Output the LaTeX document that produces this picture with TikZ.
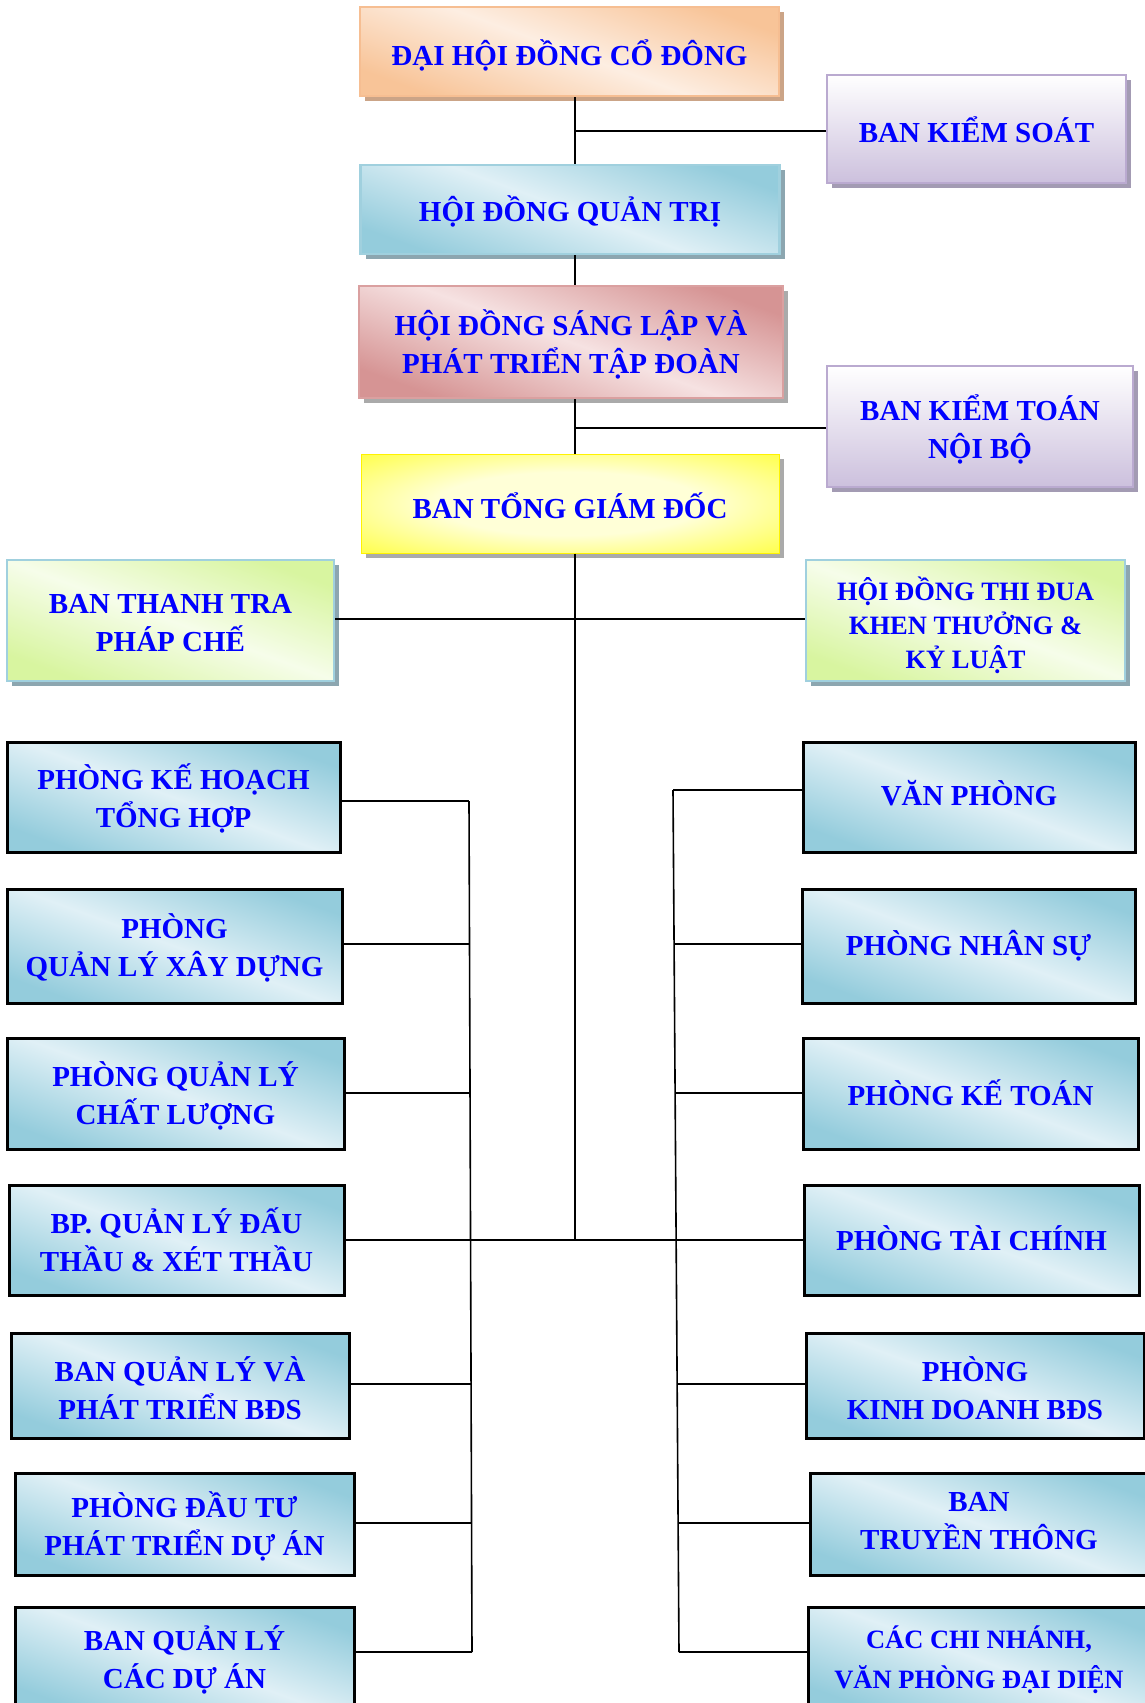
\documentclass[tikz,border=0pt]{standalone}
\usepackage{fontspec}
\setmainfont{Liberation Serif}
\usetikzlibrary{shadows}
\definecolor{txtblue}{RGB}{0,0,255}
\definecolor{bluedark}{RGB}{148,204,220}
\definecolor{bluelight}{RGB}{224,240,246}
\definecolor{peachdark}{RGB}{248,196,152}
\definecolor{peachlight}{RGB}{253,238,226}
\definecolor{peachborder}{RGB}{246,190,146}
\definecolor{peachshadow}{RGB}{203,164,135}
\definecolor{lavbottom}{RGB}{204,192,221}
\definecolor{lavborder}{RGB}{186,170,208}
\definecolor{lavshadow}{RGB}{163,155,179}
\definecolor{pinkdark}{RGB}{214,148,148}
\definecolor{pinklight}{RGB}{246,226,226}
\definecolor{pinkborder}{RGB}{218,160,160}
\definecolor{grayshadow}{RGB}{170,170,170}
\definecolor{greendark}{RGB}{216,245,160}
\definecolor{greenlight}{RGB}{246,253,234}
\definecolor{lbborder}{RGB}{160,208,222}
\definecolor{bshadow}{RGB}{140,166,176}
\definecolor{yellowin}{RGB}{255,255,215}
\pgfdeclareradialshading{yglow}{\pgfpoint{0bp}{0bp}}{color(0bp)=(yellowin); color(16bp)=(yellowin); color(46bp)=(yellow); color(50bp)=(yellow)}
\tikzset{
  basebox/.style={rectangle, align=center, inner sep=0pt, text=txtblue,
    font=\bfseries\fontsize{29}{38}\selectfont},
  tpos/.style={text height=#1pt, text depth=0pt},
  peachbox/.style={basebox, draw=peachborder, line width=2.5pt,
    top color=peachdark, bottom color=peachdark, middle color=peachlight, shading angle=-20,
    drop shadow={shadow xshift=5pt, shadow yshift=-5pt, fill=peachshadow, opacity=1}},
  lavbox/.style={basebox, draw=lavborder, line width=2.5pt,
    top color=white, bottom color=lavbottom,
    drop shadow={shadow xshift=5pt, shadow yshift=-5pt, fill=lavshadow, opacity=1}},
  lbtopbox/.style={basebox, draw=lbborder, line width=2.5pt,
    top color=bluedark, bottom color=bluedark, middle color=bluelight, shading angle=-20,
    drop shadow={shadow xshift=5pt, shadow yshift=-5pt, fill=bshadow, opacity=1}},
  pinkbox/.style={basebox, draw=pinkborder, line width=2.5pt,
    top color=pinkdark, bottom color=pinkdark, middle color=pinklight, shading angle=-20,
    drop shadow={shadow xshift=5pt, shadow yshift=-5pt, fill=grayshadow, opacity=1}},
  yellowbox/.style={basebox, draw=yellow, line width=1pt,
    shade, shading=yglow,
    drop shadow={shadow xshift=5pt, shadow yshift=-5pt, fill=grayshadow, opacity=1}},
  greenbox/.style={basebox, draw=lbborder, line width=2.5pt,
    top color=greendark, bottom color=greendark, middle color=greenlight, shading angle=-20,
    drop shadow={shadow xshift=5pt, shadow yshift=-5pt, fill=bshadow, opacity=1}},
  deptbox/.style={basebox, draw=black, line width=3pt,
    top color=bluedark, bottom color=bluedark, middle color=bluelight, shading angle=-20},
  link/.style={draw=black, line width=1.6pt},
}
\begin{document}
\begin{tikzpicture}[x=1pt,y=-1pt]
\useasboundingbox (0,0) rectangle (1145,1703);
\fill[white] (0,0) rectangle (1145,1703);
% top chain
\node[peachbox, tpos=27, minimum width=419pt, minimum height=89pt] (dhdcd) at (569.5,51.5) {ĐẠI HỘI ĐỒNG CỔ ĐÔNG};
\node[lavbox, tpos=26, minimum width=299pt, minimum height=108pt] (bks) at (976.5,129) {BAN KIỂM SOÁT};
\node[lbtopbox, tpos=24, minimum width=419pt, minimum height=89pt] (hdqt) at (570,209.5) {HỘI ĐỒNG QUẢN TRỊ};
\node[pinkbox, tpos=62, minimum width=424pt, minimum height=112pt] (hdsl) at (571,342) {HỘI ĐỒNG SÁNG LẬP VÀ\\PHÁT TRIỂN TẬP ĐOÀN};
\node[lavbox, tpos=63, minimum width=306pt, minimum height=121pt] (bktnb) at (980,426.5) {BAN KIỂM TOÁN\\NỘI BỘ};
\node[yellowbox, tpos=30, minimum width=418pt, minimum height=99pt] (btgd) at (570,503.5) {BAN TỔNG GIÁM ĐỐC};
\node[greenbox, tpos=61, minimum width=327pt, minimum height=121pt] (bttpc) at (170.5,620.5) {BAN THANH TRA\\PHÁP CHẾ};
\node[greenbox, tpos=95, minimum width=319pt, minimum height=121pt, font=\bfseries\fontsize{26.5}{34}\selectfont] (hdtd) at (965.5,620.5) {HỘI ĐỒNG THI ĐUA\\KHEN THƯỞNG \&\\KỶ LUẬT};
% left departments
\node[deptbox, tpos=60, minimum width=333pt, minimum height=110pt] (L1) at (173.5,797) {PHÒNG KẾ HOẠCH\\TỔNG HỢP};
\node[deptbox, tpos=60, minimum width=335pt, minimum height=114pt] (L2) at (174.5,946) {PHÒNG\\QUẢN LÝ XÂY DỰNG};
\node[deptbox, tpos=62, minimum width=337pt, minimum height=111pt] (L3) at (175.5,1093.5) {PHÒNG QUẢN LÝ\\CHẤT LƯỢNG};
\node[deptbox, tpos=62, minimum width=335pt, minimum height=110pt] (L4) at (176.5,1240) {BP. QUẢN LÝ ĐẤU\\THẦU \& XÉT THẦU};
\node[deptbox, tpos=68, minimum width=338pt, minimum height=105pt] (L5) at (180,1385.5) {BAN QUẢN LÝ VÀ\\PHÁT TRIỂN BĐS};
\node[deptbox, tpos=62, minimum width=339pt, minimum height=102pt] (L6) at (184.5,1524) {PHÒNG ĐẦU TƯ\\PHÁT TRIỂN DỰ ÁN};
\node[deptbox, tpos=57, minimum width=339pt, minimum height=105pt] (L7) at (184.5,1659.5) {BAN QUẢN LÝ\\CÁC DỰ ÁN};
% right departments
\node[deptbox, tpos=16, minimum width=332pt, minimum height=110pt] (R1) at (969,797) {VĂN PHÒNG};
\node[deptbox, tpos=18, minimum width=333pt, minimum height=114pt] (R2) at (968.5,946) {PHÒNG NHÂN SỰ};
\node[deptbox, tpos=23, minimum width=335pt, minimum height=111pt] (R3) at (970.5,1093.5) {PHÒNG KẾ TOÁN};
\node[deptbox, tpos=21, minimum width=335pt, minimum height=110pt] (R4) at (971.5,1240) {PHÒNG TÀI CHÍNH};
\node[deptbox, tpos=68, minimum width=338pt, minimum height=105pt] (R5) at (975,1385.5) {PHÒNG\\KINH DOANH BĐS};
\node[deptbox, tpos=50, minimum width=338pt, minimum height=102pt] (R6) at (979,1524) {BAN\\TRUYỀN THÔNG};
\node[deptbox, tpos=57, minimum width=342pt, minimum height=105pt, font=\bfseries\fontsize{26.5}{40}\selectfont] (R7) at (979,1659.5) {CÁC CHI NHÁNH,\\VĂN PHÒNG ĐẠI DIỆN};
% guide coordinates
\coordinate (tk) at (575,0);
\coordinate (lvtop) at (469,801);
\coordinate (lvbot) at (472,1652);
\coordinate (rvtop) at (673,790);
\coordinate (rvbot) at (679,1652);
% connectors
\path[link] (dhdcd.south -| tk) -- (hdqt.north -| tk);
\path[link] (tk |- 0,131) -- (bks.west |- 0,131);
\path[link] (hdqt.south -| tk) -- (hdsl.north -| tk);
\path[link] (hdsl.south -| tk) -- (btgd.north -| tk);
\path[link] (tk |- 0,428) -- (bktnb.west |- 0,428);
\path[link] (btgd.south -| tk) -- (tk |- L4.east);
\path[link] (bttpc.east |- 0,619) -- (hdtd.west |- 0,619);
\path[link] (L4.east) -- (R4.west);
\path[link] (lvtop) -- (lvbot);
\path[link] (rvtop) -- (rvbot);
\path[link] (L1.east |- lvtop) -- (lvtop);
\path[link] (L2.east |- 0,944) -- (470,944);
\path[link] (L3.east |- 0,1093) -- (470.5,1093);
\path[link] (L5.east |- 0,1384) -- (471,1384);
\path[link] (L6.east |- 0,1523) -- (471.5,1523);
\path[link] (L7.east |- lvbot) -- (lvbot);
\path[link] (rvtop) -- (rvtop -| R1.west);
\path[link] (675,944) -- (R2.west |- 0,944);
\path[link] (676,1093) -- (R3.west |- 0,1093);
\path[link] (677,1384) -- (R5.west |- 0,1384);
\path[link] (678,1523) -- (R6.west |- 0,1523);
\path[link] (rvbot) -- (rvbot -| R7.west);
\end{tikzpicture}
\end{document}
